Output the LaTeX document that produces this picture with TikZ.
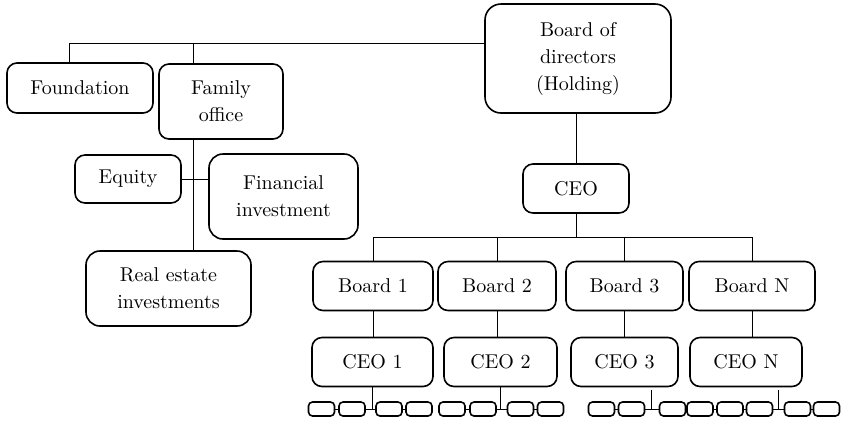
\documentclass[tikz,border=0pt]{standalone}
\begin{document}
\begin{tikzpicture}[x=0.5pt,y=-0.5pt,
        caja/.style={draw,line width=0.8pt,rounded corners=5pt,align=center,inner sep=0pt,
            font=\fontsize{10}{13.5}\selectfont},
        mini/.style={draw,line width=0.8pt,rounded corners=2pt,minimum width=13pt,minimum height=7pt,inner sep=0pt},
        linea/.style={line width=0.4pt}]
        \useasboundingbox (0,0) rectangle (841,420);
        % Holding y familia
        \node[caja,minimum width=93pt,minimum height=54.5pt,rounded corners=8pt] (board) at (578,58.5) {Board of\\directors\\(Holding)};
        \node[caja,minimum width=73pt,minimum height=25pt] (found) at (80,88) {Foundation};
        \node[caja,minimum width=62pt,minimum height=37.5pt] (family) at (221,101.5) {Family\\office};
        \node[caja,minimum width=53pt,minimum height=24pt] (equity) at (128,179) {Equity};
        \node[caja,minimum width=74.5pt,minimum height=42.5pt,rounded corners=7pt] (financial) at (283.5,196.5) {Financial\\investment};
        \node[caja,minimum width=82.5pt,minimum height=37.5pt,rounded corners=7pt] (realestate) at (168.5,288.5) {Real estate\\investments};
        \node[caja,minimum width=53pt,minimum height=24.5pt] (ceo) at (576,188.5) {CEO};
        % Empresas
        \foreach \i/\x/\w in {1/373/60,2/497/59,3/624.5/58.5,N/752/63}
            \node[caja,minimum width=\w pt,minimum height=24.5pt] (board\i) at (\x,286) {Board \i};
        \foreach \i/\x/\w in {1/372.5/60.5,2/500.5/56.5,3/624.5/53.5,N/746/56}
            \node[caja,minimum width=\w pt,minimum height=24.5pt] (ceo\i) at (\x,362) {CEO \i};
        \foreach \n/\x in {a1/321.5,a2/352,a3/389,a4/419,b1/452,b2/483,b3/520.5,b4/550.5,
                c1/601.5,c2/631.5,c3/672.5,c4/700,c5/730,c6/759.5,c7/797.5,c8/826.5}
            \node[mini] (\n) at (\x,409) {};
        % Lineas
        \coordinate (tl) at (69,43);
        \coordinate (tf) at (193,43);
        \coordinate (bus) at (576,237);
        \coordinate (k3) at (651,390);
        \coordinate (kN) at (778,390);
        \draw[linea] (tl |- found.north) -- (tl) -- (tl -| board.west);
        \draw[linea] (tf) -- (tf |- family.north);
        \draw[linea] (tf |- family.south) -- (tf |- realestate.north);
        \draw[linea] (equity.east) -- (equity.east -| financial.west);
        \draw[linea] (board.south -| ceo.north) -- (ceo.north);
        \draw[linea] (ceo.south) -- (bus);
        \draw[linea] (board1.north) -- (board1.north |- bus) -- (boardN.north |- bus) -- (boardN.north);
        \foreach \i in {2,3}
            \draw[linea] (board\i.north) -- (board\i.north |- bus);
        \foreach \i in {1,2,3,N}
            \draw[linea] (board\i.south) -- (board\i.south |- ceo\i.north);
        \foreach \p/\q in {a1/a2,a2/a3,a3/a4,b1/b2,b2/b3,b3/b4,c1/c2,c2/c3,c3/c4,c4/c5,c5/c6,c6/c7,c7/c8}
            \draw[linea] (\p) -- (\q);
        \draw[linea] (ceo1.south) -- (ceo1.south |- a2.east);
        \draw[linea] (ceo2.south) -- (ceo2.south |- b2.east);
        \draw[linea] (k3) -- (k3 |- c2.east);
        \draw[linea] (kN) -- (kN |- c6.east);
    \end{tikzpicture}
\end{document}
